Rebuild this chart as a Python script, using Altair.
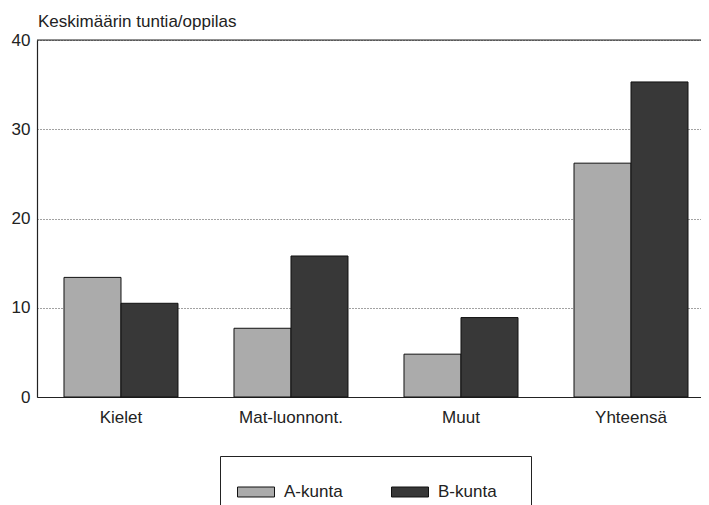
import altair as alt
import pandas as pd

categories = ["Kielet", "Mat-luonnont.", "Muut", "Yhteensä"]
series = ["A-kunta", "B-kunta"]
a_values = [13.4, 7.7, 4.8, 26.2]
b_values = [10.5, 15.8, 8.9, 35.3]
y_ticks = [0, 10, 20, 30, 40]
colors = ["#ababab", "#383838"]
title_text = ["Keskimäärin tuntia/oppilas"]

rows = []
for c, a, b in zip(categories, a_values, b_values):
    rows.append({"cat": c, "kunta": series[0], "v": a})
    rows.append({"cat": c, "kunta": series[1], "v": b})
df = pd.DataFrame(rows)

FONT = "Liberation Sans"
PAD = "\u00a0\u2800"

bars = alt.Chart(df).mark_bar(stroke="#111", strokeWidth=1).encode(
    x=alt.X("cat:N", sort=categories, title=None,
            scale=alt.Scale(paddingInner=0.3294, paddingOuter=0.1176, align=0.675),
            axis=alt.Axis(labelAngle=0, labelFontSize=17, labelFont=FONT, labelColor="#222",
                          ticks=False, tickSize=0, labelPadding=12, domainColor="#222",
                          domainWidth=1.2, grid=False)),
    xOffset=alt.XOffset("kunta:N", sort=series),
    y=alt.Y("v:Q", title=None,
            scale=alt.Scale(domain=[0, 40], nice=False),
            axis=alt.Axis(values=y_ticks, labelFontSize=17, labelFont=FONT, labelColor="#222",
                          ticks=False, tickSize=0, labelPadding=7, domainColor="#222",
                          domainWidth=1.2, grid=True, gridDash=[1, 2], gridColor="#444",
                          gridWidth=1)),
    color=alt.Color("kunta:N", sort=series,
                    scale=alt.Scale(domain=series, range=colors),
                    legend=alt.Legend(title=None, orient="none", direction="horizontal",
                                      legendX=183, legendY=416,
                                      strokeColor="#222", padding=17,
                                      labelFontSize=17, labelFont=FONT, labelColor="#222",
                                      labelOffset=9, columnPadding=46,
                                      labelExpr="datum.label == 'B-kunta' ? 'B-kunta" + PAD + "' : datum.label",
                                      symbolType="M-1,-0.27L1,-0.27L1,0.27L-1,0.27Z",
                                      symbolSize=1369, symbolStrokeColor="#111",
                                      symbolStrokeWidth=1, symbolOpacity=1)),
)

top_line = alt.Chart(pd.DataFrame({"y": [y_ticks[-1]]})).mark_rule(
    color="#222", strokeWidth=1.2).encode(y="y:Q")

title_mark = alt.Chart(pd.DataFrame({"t": title_text})).mark_text(
    align="left", baseline="alphabetic", fontSize=17, font=FONT, color="#222"
).encode(x=alt.value(1), y=alt.value(-13), text="t:N")

chart = alt.layer(bars, top_line, title_mark).properties(
    width=664, height=357,
    autosize=alt.AutoSizeParams(type="none"),
    padding={"left": 29, "top": 32, "right": 0, "bottom": 108},
).configure_view(stroke=None).configure(background="white")

chart.save("out.html", embed_options={"renderer": "svg", "actions": False})
